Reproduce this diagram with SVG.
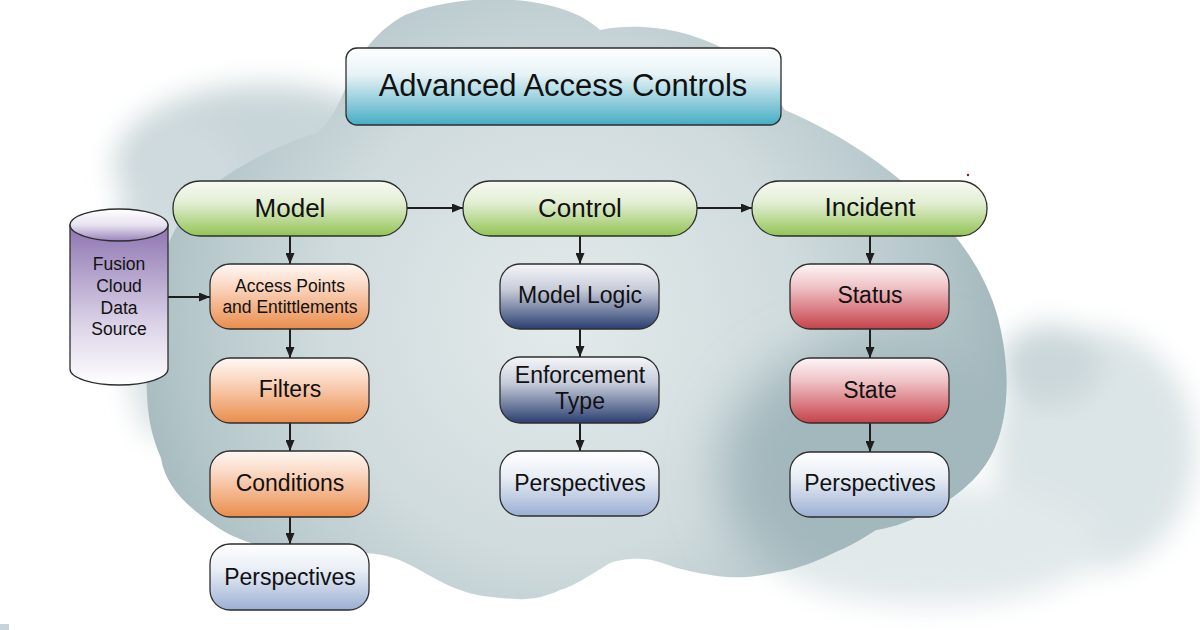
<svg xmlns="http://www.w3.org/2000/svg" width="1200" height="630" viewBox="0 0 1200 630">
<defs>
<style>
.box{stroke:#2e2e2e;stroke-width:1.3}
.t{font-family:"Liberation Sans",Arial,sans-serif;fill:#111;text-anchor:middle}
.conn{stroke:#1e1e1e;stroke-width:2;fill:none;marker-end:url(#ah)}
</style>
<marker id="ah" markerUnits="userSpaceOnUse" markerWidth="11" markerHeight="9" refX="11" refY="4.5" orient="auto">
<path d="M0,0 L11,4.5 L0,9 Z" fill="#1e1e1e"/>
</marker>
<filter id="blur" x="-50%" y="-50%" width="200%" height="200%"><feGaussianBlur stdDeviation="14"/></filter>
<filter id="blur2" x="-50%" y="-50%" width="200%" height="200%"><feGaussianBlur stdDeviation="25"/></filter>
<radialGradient id="gCloud" gradientUnits="userSpaceOnUse" cx="560" cy="320" r="470">
<stop offset="0" stop-color="#e3eaeb"/>
<stop offset="0.5" stop-color="#d0dbdd"/>
<stop offset="0.8" stop-color="#b4c6ca"/>
<stop offset="1" stop-color="#9cb2b7"/>
</radialGradient>
<linearGradient id="gTitle" x1="0" y1="0" x2="0" y2="1"><stop offset="0" stop-color="#ffffff"/><stop offset="0.35" stop-color="#e6f2f5"/><stop offset="1" stop-color="#45adc4"/></linearGradient>
<linearGradient id="gGreen" x1="0" y1="0" x2="0" y2="1"><stop offset="0" stop-color="#f7faf3"/><stop offset="0.4" stop-color="#e2eed3"/><stop offset="1" stop-color="#93c454"/></linearGradient>
<linearGradient id="gOrange" x1="0" y1="0" x2="0" y2="1"><stop offset="0" stop-color="#fff8f4"/><stop offset="0.35" stop-color="#fad6c0"/><stop offset="1" stop-color="#ea8d4c"/></linearGradient>
<linearGradient id="gNavy" x1="0" y1="0" x2="0" y2="1"><stop offset="0" stop-color="#f5f6f9"/><stop offset="0.4" stop-color="#c6cbd9"/><stop offset="1" stop-color="#2a3e70"/></linearGradient>
<linearGradient id="gRed" x1="0" y1="0" x2="0" y2="1"><stop offset="0" stop-color="#fdf5f6"/><stop offset="0.35" stop-color="#efc3c7"/><stop offset="1" stop-color="#c6424a"/></linearGradient>
<linearGradient id="gBlue" x1="0" y1="0" x2="0" y2="1"><stop offset="0" stop-color="#ffffff"/><stop offset="0.4" stop-color="#e8edf5"/><stop offset="1" stop-color="#9bafd3"/></linearGradient>
<linearGradient id="gCyl" x1="0" y1="0" x2="0" y2="1"><stop offset="0" stop-color="#8d74b1"/><stop offset="0.6" stop-color="#d9d0e6"/><stop offset="1" stop-color="#ffffff"/></linearGradient>
<linearGradient id="gCylTop" x1="0" y1="0" x2="0" y2="1"><stop offset="0" stop-color="#ffffff"/><stop offset="0.5" stop-color="#e8e2f0"/><stop offset="1" stop-color="#9a84bc"/></linearGradient>
<clipPath id="cloudClip"><path d="M147,395 C142,300 165,215 217,182 C245,162 285,142 317,133 C335,118 342,95 350,78 C362,50 378,30 405,15 C460,-8 560,-8 600,30 C640,22 690,28 735,55 C755,70 772,90 785,110 C880,150 975,230 998,318 C1015,385 1005,440 983,468 C960,500 910,525 876,530 C860,540 850,546 840,550 C815,562 795,570 777,572 C760,576 745,578 727,577 C705,575 690,571 677,568 C660,562 650,559 643,559 C630,558 615,561 610,563 C590,575 575,586 560,590 C545,597 530,600 517,599 C495,598 475,596 460,590 C440,583 425,572 410,565 C395,557 380,553 360,553 C330,553 300,556 268,548 C245,542 228,535 214,525 C185,505 165,485 161,458 C153,440 148,420 147,395 Z"/></clipPath>
</defs>

<rect width="1200" height="630" fill="#ffffff"/>

<g id="background">
<g filter="url(#blur)">
<ellipse cx="265" cy="165" rx="150" ry="80" fill="#c9d6d9"/>
<ellipse cx="185" cy="230" rx="65" ry="110" fill="#cfdade"/>
<ellipse cx="160" cy="330" rx="35" ry="110" fill="#d9e2e5"/>
</g>
<g filter="url(#blur)">
<ellipse cx="1095" cy="450" rx="100" ry="120" fill="#dbe4e6"/>
<ellipse cx="1050" cy="365" rx="50" ry="40" fill="#cbd7da"/>
<ellipse cx="930" cy="545" rx="170" ry="60" fill="#e2e9eb"/>
</g>
<path d="M147,395 C142,300 165,215 217,182 C245,162 285,142 317,133 C335,118 342,95 350,78 C362,50 378,30 405,15 C460,-8 560,-8 600,30 C640,22 690,28 735,55 C755,70 772,90 785,110 C880,150 975,230 998,318 C1015,385 1005,440 983,468 C960,500 910,525 876,530 C860,540 850,546 840,550 C815,562 795,570 777,572 C760,576 745,578 727,577 C705,575 690,571 677,568 C660,562 650,559 643,559 C630,558 615,561 610,563 C590,575 575,586 560,590 C545,597 530,600 517,599 C495,598 475,596 460,590 C440,583 425,572 410,565 C395,557 380,553 360,553 C330,553 300,556 268,548 C245,542 228,535 214,525 C185,505 165,485 161,458 C153,440 148,420 147,395 Z" fill="url(#gCloud)"/>
<g clip-path="url(#cloudClip)">
<ellipse cx="880" cy="470" rx="160" ry="130" fill="#a3b8bd" filter="url(#blur2)"/>
</g>
<rect x="0" y="624" width="9" height="6" fill="#c8d4d9"/>
<circle cx="968" cy="175" r="1.2" fill="#8b1a1a"/>
</g>

<g id="connectors">
<line class="conn" x1="407" y1="208" x2="463" y2="208"/>
<line class="conn" x1="697" y1="208" x2="752" y2="208"/>
<line class="conn" x1="168" y1="297" x2="210" y2="297"/>
<line class="conn" x1="290" y1="236" x2="290" y2="264"/>
<line class="conn" x1="290" y1="329" x2="290" y2="358"/>
<line class="conn" x1="290" y1="423" x2="290" y2="451"/>
<line class="conn" x1="290" y1="517" x2="290" y2="544"/>
<line class="conn" x1="580" y1="236" x2="580" y2="264"/>
<line class="conn" x1="580" y1="329" x2="580" y2="357"/>
<line class="conn" x1="580" y1="423" x2="580" y2="451"/>
<line class="conn" x1="870" y1="236" x2="870" y2="264"/>
<line class="conn" x1="870" y1="329" x2="870" y2="358"/>
<line class="conn" x1="870" y1="423" x2="870" y2="452"/>
</g>

<g id="title">
<rect class="box" x="346" y="48" width="435" height="77" rx="11" fill="url(#gTitle)"/>
<text class="t" x="563" y="96" font-size="31">Advanced Access Controls</text>
</g>

<g id="datasource">
<path class="box" d="M70,225 L70,369 A49,16 0 0 0 168,369 L168,225 Z" fill="url(#gCyl)"/>
<ellipse class="box" cx="119" cy="225" rx="49" ry="16" fill="url(#gCylTop)"/>
<text class="t" x="119" font-size="17.5"><tspan x="119" y="270">Fusion</tspan><tspan x="119" y="292">Cloud</tspan><tspan x="119" y="314">Data</tspan><tspan x="119" y="335">Source</tspan></text>
</g>

<g id="model">
<rect class="box" x="173" y="181" width="234" height="55" rx="27" fill="url(#gGreen)"/>
<text class="t" x="290" y="217" font-size="26">Model</text>
</g>
<g id="control">
<rect class="box" x="463" y="181" width="234" height="55" rx="27" fill="url(#gGreen)"/>
<text class="t" x="580" y="217" font-size="26">Control</text>
</g>
<g id="incident">
<rect class="box" x="752" y="181" width="235" height="55" rx="27" fill="url(#gGreen)"/>
<text class="t" x="870" y="216" font-size="26">Incident</text>
</g>

<g id="access-points">
<rect class="box" x="210" y="264" width="159" height="65" rx="20" fill="url(#gOrange)"/>
<text class="t" font-size="17.5"><tspan x="290" y="292">Access Points</tspan><tspan x="290" y="313">and Entittlements</tspan></text>
</g>
<g id="filters">
<rect class="box" x="210" y="358" width="159" height="65" rx="20" fill="url(#gOrange)"/>
<text class="t" x="290" y="397" font-size="23">Filters</text>
</g>
<g id="conditions">
<rect class="box" x="210" y="451" width="159" height="66" rx="20" fill="url(#gOrange)"/>
<text class="t" x="290" y="491" font-size="23">Conditions</text>
</g>
<g id="perspectives-model">
<rect class="box" x="210" y="544" width="159" height="66" rx="20" fill="url(#gBlue)"/>
<text class="t" x="290" y="585" font-size="23">Perspectives</text>
</g>

<g id="model-logic">
<rect class="box" x="500" y="264" width="159" height="65" rx="20" fill="url(#gNavy)"/>
<text class="t" x="580" y="303" font-size="23">Model Logic</text>
</g>
<g id="enforcement-type">
<rect class="box" x="500" y="357" width="159" height="66" rx="20" fill="url(#gNavy)"/>
<text class="t" font-size="23"><tspan x="580" y="383">Enforcement</tspan><tspan x="580" y="409">Type</tspan></text>
</g>
<g id="perspectives-control">
<rect class="box" x="500" y="451" width="159" height="65" rx="20" fill="url(#gBlue)"/>
<text class="t" x="580" y="491" font-size="23">Perspectives</text>
</g>

<g id="status">
<rect class="box" x="790" y="264" width="159" height="65" rx="20" fill="url(#gRed)"/>
<text class="t" x="870" y="303" font-size="23">Status</text>
</g>
<g id="state">
<rect class="box" x="790" y="358" width="159" height="65" rx="20" fill="url(#gRed)"/>
<text class="t" x="870" y="398" font-size="23">State</text>
</g>
<g id="perspectives-incident">
<rect class="box" x="790" y="452" width="159" height="65" rx="20" fill="url(#gBlue)"/>
<text class="t" x="870" y="491" font-size="23">Perspectives</text>
</g>
</svg>
